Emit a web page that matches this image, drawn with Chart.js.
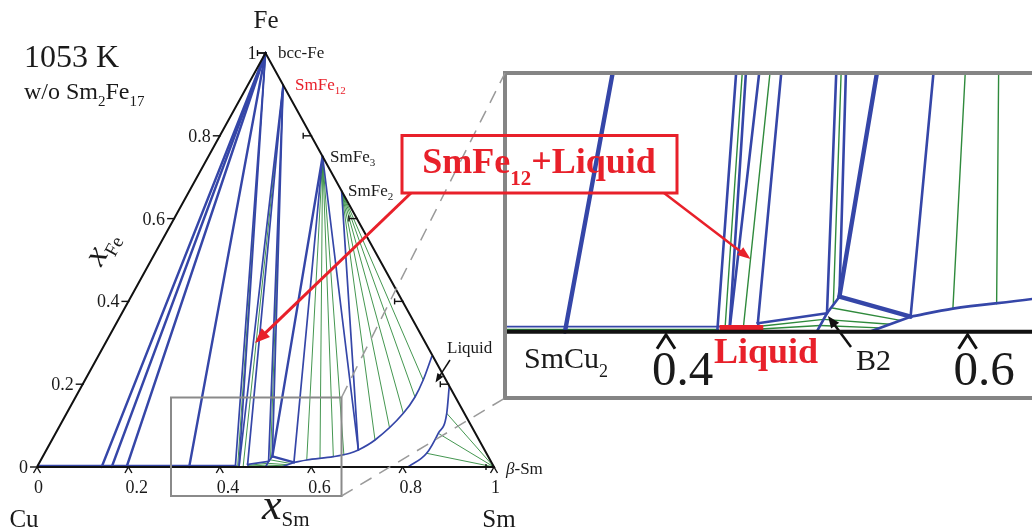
<!DOCTYPE html>
<html><head><meta charset="utf-8">
<script src="https://cdn.jsdelivr.net/npm/chart.js@4/dist/chart.umd.min.js"></script>
<style>
html,body{margin:0;padding:0;background:#fff;overflow:hidden;width:1032px;height:530px;}
#wrap{position:relative;width:1032px;height:530px;overflow:hidden;font-family:"Liberation Serif","Times New Roman",serif;color:#1a1a1a;}
canvas{position:absolute;}
#insetBox{position:absolute;left:503px;top:71px;width:540px;height:321px;border:4px solid #858585;background:#fff;z-index:2;}
#main{left:0;top:0;z-index:1;}
#inset{left:507px;top:75px;z-index:3;}
#ov{left:0;top:0;z-index:4;pointer-events:none;}
.t{position:absolute;white-space:nowrap;line-height:1;transform:translate(-50%,-50%);z-index:5;}
.l{transform:translate(0,-50%);}
.r{transform:translate(-100%,-50%);}
.s{line-height:0;}
</style></head>
<body><div id="wrap">
<canvas id="main" width="1032" height="530"></canvas>
<div id="insetBox"></div>
<canvas id="inset" width="525" height="321"></canvas>
<canvas id="ov" width="1032" height="530"></canvas>

<div class="t" style="left:266px;top:19px;font-size:25px">Fe</div>
<div class="t l" style="left:24px;top:56px;font-size:32px">1053 K</div>
<div class="t l" style="left:24px;top:91px;font-size:24px">w/o Sm<span class="s" style="font-size:15px;vertical-align:-7px">2</span>Fe<span class="s" style="font-size:15px;vertical-align:-7px">17</span></div>
<div class="t l" style="left:278px;top:52px;font-size:17px">bcc-Fe</div>
<div class="t l" style="left:295px;top:84px;font-size:17px;color:#e8202a">SmFe<span class="s" style="font-size:11px;vertical-align:-4px">12</span></div>
<div class="t l" style="left:330px;top:156px;font-size:17px">SmFe<span class="s" style="font-size:11px;vertical-align:-4px">3</span></div>
<div class="t l" style="left:348px;top:190px;font-size:17px">SmFe<span class="s" style="font-size:11px;vertical-align:-4px">2</span></div>
<div class="t l" style="left:447px;top:347px;font-size:17px">Liquid</div>
<div class="t l" style="left:506px;top:468px;font-size:17px"><i>β</i>-Sm</div>
<div class="t" style="left:100px;top:247px;font-size:34px;transform:translate(-50%,-50%) rotate(-61deg)"><i>x</i><span class="s" style="font-size:19px;vertical-align:-7px">Fe</span></div>
<div class="t l" style="left:262px;top:505px;font-size:44px"><i>x</i><span class="s" style="font-size:21px;vertical-align:-7px">Sm</span></div>
<div class="t" style="left:24px;top:518px;font-size:25px">Cu</div>
<div class="t" style="left:499px;top:518px;font-size:25px">Sm</div>

<div class="t l" style="left:524px;top:358px;font-size:30px">SmCu<span class="s" style="font-size:18px;vertical-align:-9px">2</span></div>
<div class="t l" style="left:714px;top:351px;font-size:36px;font-weight:bold;color:#e8202a">Liquid</div>
<div class="t l" style="left:856px;top:360px;font-size:30px">B2</div>
<div class="t" style="left:539px;top:161px;font-size:36px;font-weight:bold;color:#e8202a">SmFe<span class="s" style="font-size:21px;vertical-align:-12px">12</span>+Liquid</div>
</div>
<script>
// ---------- data: compositions [x_Sm, x_Fe] ----------
const bccFe = [0, 1];
const smFe12 = [0.077, 0.923];
const smFe3 = [0.25, 0.75];
const smFe2 = [0.333, 0.667];
const betaSm = [1, 0];
const triangleEdge = [[0,0],[1,0],[0,1],[0,0]];

const tickValues = [0, 0.2, 0.4, 0.6, 0.8, 1];
const tickLabels = ['0', '0.2', '0.4', '0.6', '0.8', '1'];
const insetTickValues = [0.4, 0.6];
const insetTickLabels = ['0.4', '0.6'];

// Cu-Sm edge end points of bcc-Fe tie lines (x_Sm, x_Fe = 0)
const feTieThick = [0.1415, 0.1635, 0.196, 0.333];
const feTieThin = [0.434, 0.442];
const feTieGreen = [0.439];

const liquid1Bar = [[0.434, 0.003], [0.463, 0.003]];
const liquid1Edge = [[0.463, 0], [0.4578, 0.0062], [0.5, 0.0135]];
const b2Phase = [[0.5, 0], [0.5, 0.0135], [0.5022, 0.0256]];
const b2Liquid2Edge = [[0.5022, 0.0256], [0.5567, 0.011]];
const liquid2Edge = [[0.535, 0], [0.5567, 0.011]];

const smFe12TiesBlue = [[0.442, 0], [0.4578, 0.0062], [0.5, 0.0135], [0.5022, 0.0256]];
const smFe12TiesGreen = [[0.451, 0], [0.5012, 0.0195]];
const smFe3TiesThick = [[0.5022, 0.0256]];
const smFe3TiesBlue = [[0.5567, 0.011], [0.6826, 0.0411]];
const smFe3TiesGreen = [[0.5818, 0.0169], [0.609, 0.0205], [0.636, 0.0249], [0.657, 0.029]];
const smFe2TiesBlue = [[0.6826, 0.0411]];
const smFe2TiesGreen = [[0.707, 0.0652], [0.7225, 0.097], [0.7367, 0.1297], [0.7426, 0.169], [0.740, 0.2101]];
const betaSmTiesGreen = [[0.8317, 0.1297], [0.8373, 0.0814], [0.836, 0.0331]];

const liquid2Upper = [[0.5567,0.011],[0.5818,0.0169],[0.636,0.0249],[0.668,0.0331],[0.6826,0.0411],[0.707,0.0652],[0.7367,0.1297],[0.7426,0.169],[0.740,0.2101],[0.7305,0.2664]];
const liquid2Lower = [[0.812,0],[0.836,0.0331],[0.8373,0.0814],[0.8317,0.1297],[0.805,0.194]];

const b2Liquid2Ties = [[[0.5,0.0045],[0.5404,0.0028]], [[0.5,0.009],[0.5459,0.0055]], [[0.5007,0.0175],[0.5513,0.0083]]];
const liquid1B2Ties = [[[0.4617,0.002],[0.5,0.0045]], [[0.4604,0.004],[0.5,0.009]]];
const cuSideBlue = [[0, 0.0037], [0.434, 0.0037]];
const cuSideGreen = [[0, 0.0016], [0.434, 0.0016]];

// ---------- styling ----------
const BLUE = '#3546a8', GREEN = '#2f8a3c', RED = '#e8202a', BLACK = '#111';

function pt(c) { return { x: c[0] + c[1] / 2, y: c[1] }; }

function buildDatasets(W) {
  const ds = [];
  const add = (pts, color, width, extra) => ds.push(Object.assign({
    data: pts.map(pt), showLine: true, borderColor: color, borderWidth: width,
    pointRadius: 0, fill: false, tension: 0, borderCapStyle: 'round'
  }, extra || {}));
  add(triangleEdge, BLACK, W.frame, { borderCapStyle: 'butt' });
  if (W.red) add(liquid1Bar, RED, W.red, { borderCapStyle: 'butt' });
  // blue thick
  feTieThick.forEach(s => add([bccFe, [s, 0]], BLUE, W.thick));
  smFe3TiesThick.forEach(p => add([smFe3, p], BLUE, W.thick));
  add(b2Liquid2Edge, BLUE, W.thick);
  // blue thin
  feTieThin.forEach(s => add([bccFe, [s, 0]], BLUE, W.thin));
  smFe12TiesBlue.forEach(p => add([smFe12, p], BLUE, W.thin));
  smFe3TiesBlue.forEach(p => add([smFe3, p], BLUE, W.thin));
  smFe2TiesBlue.forEach(p => add([smFe2, p], BLUE, W.thin));
  add(liquid1Edge, BLUE, W.thin);
  add(b2Phase, BLUE, W.thin);
  add(liquid2Edge, BLUE, W.thin);
  add(cuSideBlue, BLUE, W.thin * 0.7);
  add(liquid2Upper, BLUE, W.thin, { cubicInterpolationMode: 'monotone' });
  add(liquid2Lower, BLUE, W.thin, { cubicInterpolationMode: 'monotone' });
  // green tie lines
  feTieGreen.forEach(s => add([bccFe, [s, 0]], GREEN, W.green));
  smFe12TiesGreen.forEach(p => add([smFe12, p], GREEN, W.green));
  smFe3TiesGreen.forEach(p => add([smFe3, p], GREEN, W.green));
  smFe2TiesGreen.forEach(p => add([smFe2, p], GREEN, W.green));
  betaSmTiesGreen.forEach(p => add([betaSm, p], GREEN, W.green));
  b2Liquid2Ties.forEach(t => add(t, GREEN, W.green));
  liquid1B2Ties.forEach(t => add(t, GREEN, W.green));
  add(cuSideGreen, GREEN, W.green);
  return ds;
}

function line(ctx, x1, y1, x2, y2) { ctx.beginPath(); ctx.moveTo(x1, y1); ctx.lineTo(x2, y2); ctx.stroke(); }

const mainTicks = {
  id: 'mainTicks',
  afterDatasetsDraw(chart) {
    const { ctx, scales: { x, y } } = chart;
    const P = (s, f) => [x.getPixelForValue(s + f / 2), y.getPixelForValue(f)];
    ctx.save(); ctx.strokeStyle = BLACK; ctx.lineWidth = 1.4;
    tickValues.forEach(v => {
      let [px, py] = P(v, 0);
      line(ctx, px - 3.5, py + 6, px, py); line(ctx, px, py, px + 3.5, py + 6);
      [px, py] = P(0, v);
      line(ctx, px - 7, py, px + 1, py);
      [px, py] = P(1 - v, v);
      line(ctx, px - 8, py, px + 1, py); line(ctx, px - 8, py - 3, px - 8, py + 3);
    });
    ctx.restore();
  }
};

const insetTicks = {
  id: 'insetTicks',
  afterDatasetsDraw(chart) {
    const { ctx, scales: { x, y } } = chart;
    ctx.save(); ctx.strokeStyle = BLACK; ctx.lineWidth = 3;
    insetTickValues.forEach(v => {
      const px = x.getPixelForValue(v), py = y.getPixelForValue(0);
      ctx.beginPath(); ctx.moveTo(px - 9, py + 17); ctx.lineTo(px, py + 3); ctx.lineTo(px + 9, py + 17); ctx.stroke();
    });
    ctx.restore();
  }
};

function makeChart(id, W, xr, yr, plugin) {
  return new Chart(document.getElementById(id), {
    type: 'scatter',
    data: { datasets: buildDatasets(W) },
    options: {
      responsive: false, maintainAspectRatio: false, animation: false, devicePixelRatio: 1,
      layout: { padding: 0 },
      plugins: { legend: { display: false }, tooltip: { enabled: false }, title: { display: false } },
      events: [],
      scales: {
        x: { type: 'linear', display: false, min: xr[0], max: xr[1] },
        y: { type: 'linear', display: false, min: yr[0], max: yr[1] }
      }
    },
    plugins: [plugin]
  });
}

// main: 457 px per unit along Cu-Sm, 414 px per unit of x_Fe, Cu corner at (37,467)
const mainChart = makeChart('main', { frame: 2, thick: 2.4, thin: 1.7, green: 0.9, red: 0 },
  [-37 / 457, (1032 - 37) / 457], [-(530 - 467) / 414, 467 / 414], mainTicks);
// inset: same data, magnified (1508 px / 1366 px per unit)
const insetChart = makeChart('inset', { frame: 4, thick: 4.4, thin: 2.6, green: 1.4, red: 5 },
  [0.4 + (507 - 666) / 1508, 0.4 + (507 - 666 + 525) / 1508], [(331.7 - 396) / 1366, (331.7 - 75) / 1366], insetTicks);

// tick labels from the scales
const wrap = document.getElementById('wrap');
function addText(html, x, y, cls, size) {
  const d = document.createElement('div');
  d.className = 't ' + cls; d.innerHTML = html;
  d.style.left = x + 'px'; d.style.top = y + 'px'; d.style.fontSize = size + 'px';
  wrap.appendChild(d);
}
const mx = mainChart.scales.x, my = mainChart.scales.y;
tickValues.forEach((v, i) => {
  addText(tickLabels[i], mx.getPixelForValue(v) - 3, my.getPixelForValue(0) + 20, 'l', 18);
  addText(tickLabels[i], mx.getPixelForValue(v / 2) - 9, my.getPixelForValue(v), 'r', 18);
});
const ix = insetChart.scales.x, iy = insetChart.scales.y;
insetTickValues.forEach((v, i) => {
  addText(insetTickLabels[i], 507 + ix.getPixelForValue(v) - 14, 75 + iy.getPixelForValue(0) + 36, 'l', 49);
});

// ---------- annotations ----------
const c = document.getElementById('ov').getContext('2d');
function arrow(x1, y1, x2, y2, color, w, hl, hw) {
  const a = Math.atan2(y2 - y1, x2 - x1);
  c.strokeStyle = color; c.fillStyle = color; c.lineWidth = w;
  line(c, x1, y1, x2 - Math.cos(a) * hl * 0.8, y2 - Math.sin(a) * hl * 0.8);
  c.beginPath(); c.moveTo(x2, y2);
  c.lineTo(x2 - Math.cos(a) * hl + Math.sin(a) * hw, y2 - Math.sin(a) * hl - Math.cos(a) * hw);
  c.lineTo(x2 - Math.cos(a) * hl - Math.sin(a) * hw, y2 - Math.sin(a) * hl + Math.cos(a) * hw);
  c.closePath(); c.fill();
}
c.strokeStyle = '#8a8a8a'; c.lineWidth = 2; c.strokeRect(171, 397.5, 170.5, 98.5);
c.setLineDash([13, 9]); c.lineWidth = 1.5; c.strokeStyle = '#9a9a9a';
line(c, 341.5, 397.5, 505, 73); line(c, 341.5, 496, 505, 398);
c.setLineDash([]);
c.strokeStyle = RED; c.lineWidth = 3; c.strokeRect(402, 135.5, 275, 57.5);
arrow(411, 193, 255, 343, RED, 3, 15, 6);
arrow(664, 193, 750.5, 259, RED, 2.5, 13, 5);
arrow(450, 360, 435.5, 382.5, BLACK, 1.5, 9, 3.5);
arrow(851, 347, 828, 316, BLACK, 2.5, 12, 5);
</script>
</body></html>
